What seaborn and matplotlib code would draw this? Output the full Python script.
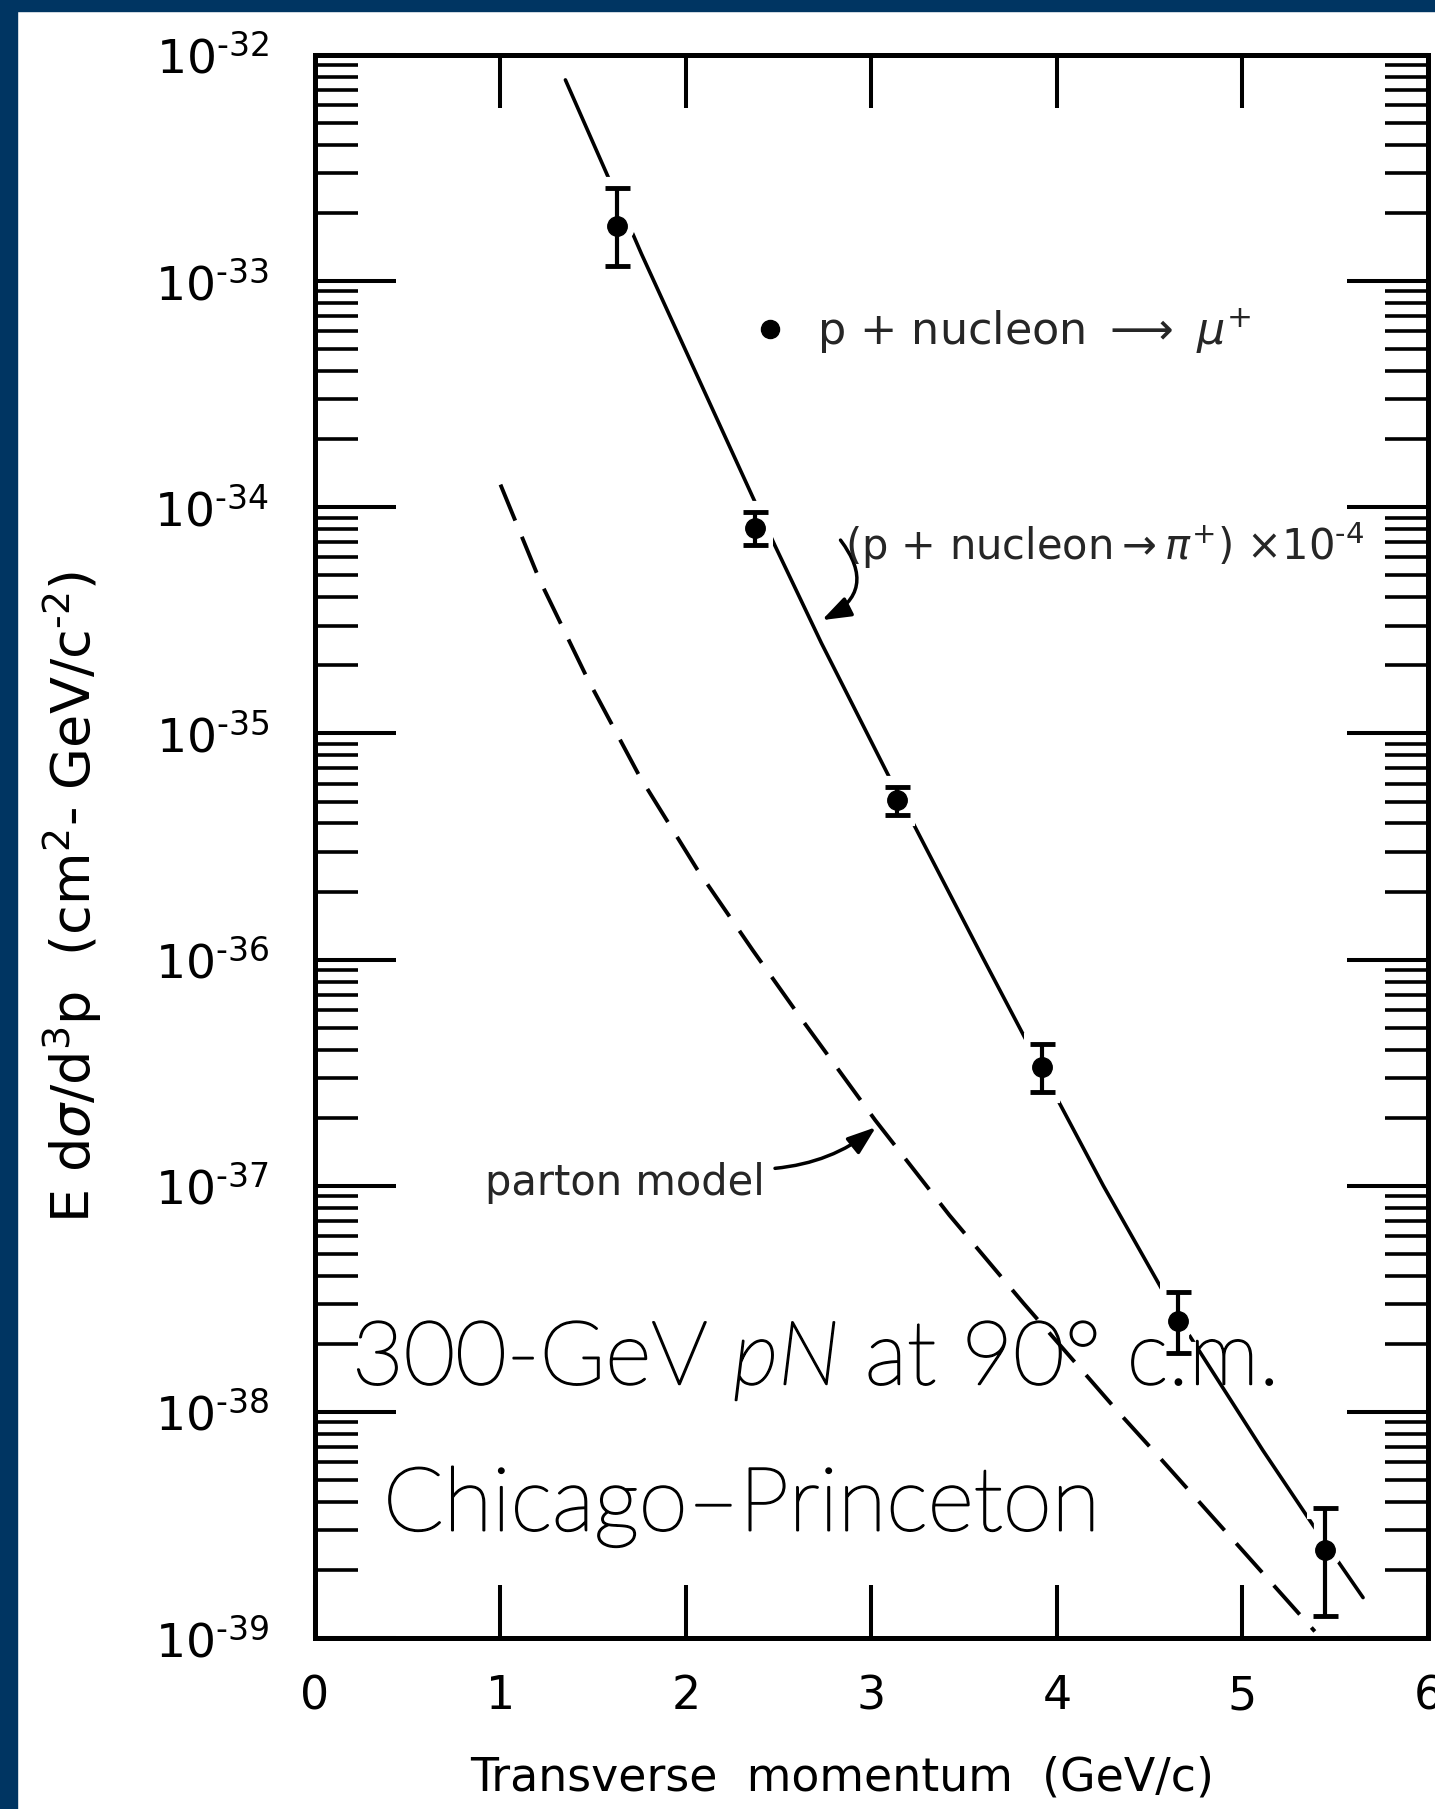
import numpy as np
import matplotlib
matplotlib.use("Agg")
import matplotlib.pyplot as plt
import matplotlib.patheffects as pe
from matplotlib.lines import Line2D
from matplotlib.patches import Rectangle
from matplotlib.ticker import LogLocator, NullLocator, NullFormatter
import seaborn as sns

# measured points, p + nucleon -> mu+ (value, lower and upper end of error bar)
pt_x = [1.63, 2.37, 3.14, 3.92, 4.65, 5.445]
pt_y = [1.76e-33, 8.1e-35, 5.1e-36, 3.34e-37, 2.52e-38, 2.45e-39]
pt_lo = [1.17e-33, 6.8e-35, 4.37e-36, 2.59e-37, 1.82e-38, 1.25e-39]
pt_hi = [2.58e-33, 9.55e-35, 5.78e-36, 4.23e-37, 3.39e-38, 3.75e-39]

# (p + nucleon -> pi+) x 1e-4, solid curve
pi_x = [1.35, 1.57, 1.76, 2.14, 2.48, 2.73, 3.10, 3.60, 3.90, 4.25, 4.65, 5.11, 5.38, 5.65]
pi_y = [7.76e-33, 3.02e-33, 1.32e-33, 2.75e-34, 6.76e-35, 2.51e-35, 6.31e-36,
        1.02e-36, 3.47e-37, 1.00e-37, 2.63e-38, 6.76e-39, 3.16e-39, 1.51e-39]

# parton model, dashed curve
parton_x = [1.00, 1.21, 1.47, 1.75, 2.06, 2.36, 2.62, 3.02, 3.42, 3.82, 4.33, 4.54, 5.39]
parton_y = [1.26e-34, 4.79e-35, 1.74e-35, 6.46e-36, 2.51e-36, 1.10e-36, 5.50e-37,
            1.95e-37, 7.41e-38, 3.02e-38, 1.00e-38, 6.46e-39, 1.07e-39]

x_ticks = [0, 1, 2, 3, 4, 5, 6]
x_ticklabels = ["0", "1", "2", "3", "4", "5", "6"]
y_ticks = [1e-39, 1e-38, 1e-37, 1e-36, 1e-35, 1e-34, 1e-33, 1e-32]
y_ticklabels = [r"$10^{\text{-}39}$", r"$10^{\text{-}38}$", r"$10^{\text{-}37}$", r"$10^{\text{-}36}$",
                r"$10^{\text{-}35}$", r"$10^{\text{-}34}$", r"$10^{\text{-}33}$", r"$10^{\text{-}32}$"]

navy = "#003562"

sns.set_theme(style="ticks")
plt.rcParams["font.family"] = ["DejaVu Sans"]
plt.rcParams["mathtext.fontset"] = "dejavusans"

fig = plt.figure(figsize=(14.35, 18.09), dpi=100)
fig.patch.set_facecolor("white")
ax = fig.add_axes([0.2195, 0.0945, 0.7756, 0.8751])
ax.set_facecolor("white")
ax.set_yscale("log")

# curves ======================================================================
sns.lineplot(x=pi_x, y=pi_y, ax=ax, color="black", lw=2.6, sort=False, zorder=2)
sns.lineplot(x=parton_x, y=parton_y, ax=ax, color="black", lw=2.8, sort=False, zorder=4)
ax.lines[-1].set_dashes([10, 4.5])

# data points; a wide white copy underneath breaks the curve around them
y = np.array(pt_y)
yerr = [y - np.array(pt_lo), np.array(pt_hi) - y]
ax.errorbar(pt_x, pt_y, yerr=yerr, fmt="o", color="white", ms=24,
            elinewidth=16, capsize=13, capthick=16, zorder=2.5)
ax.errorbar(pt_x, pt_y, yerr=yerr, fmt="o", color="black", ms=14,
            elinewidth=3, capsize=9, capthick=3.5, zorder=3)

# axes ========================================================================
ax.set_xlim(0, 6)
ax.set_ylim(1e-39, 1e-32)
ax.set_xticks(x_ticks, labels=x_ticklabels)
ax.set_yticks(y_ticks, labels=y_ticklabels)
ax.yaxis.set_minor_locator(LogLocator(base=10, subs=np.arange(2, 10), numticks=100))
ax.yaxis.set_minor_formatter(NullFormatter())
ax.xaxis.set_minor_locator(NullLocator())

ax.tick_params(axis="x", which="major", direction="in", length=38, width=2.9,
               top=True, bottom=True, labelsize=33, pad=26, color="black", labelcolor="black")
ax.tick_params(axis="y", which="major", direction="in", length=58, width=2.9,
               left=True, right=True, labelsize=34, pad=33, color="black", labelcolor="black")
ax.tick_params(axis="y", which="minor", direction="in", length=31, width=2.6,
               left=True, right=True, color="black")
for s in ax.spines.values():
    s.set_linewidth(3.6)
    s.set_color("black")
    s.set_visible(True)

ax.set_xlabel("Transverse  momentum  (GeV/c)", fontsize=33, color="black")
ax.xaxis.set_label_coords(0.4735, -0.0745)
ax.set_ylabel(r"E d$\sigma$/d$^3$p  (cm$^2$- GeV/c$^{\text{-}2}$)", fontsize=39, color="black")
ax.yaxis.set_label_coords(-0.19, 0.468)

# annotations =================================================================
dot = Line2D([], [], marker="o", ls="none", color="black", ms=13)
leg = ax.legend([dot], [r"p + nucleon $\longrightarrow$ $\mu^{+}$"], loc="center left",
                bbox_to_anchor=(0.397, 0.8257), frameon=False, fontsize=32,
                handlelength=0.6, handletextpad=0.75, borderpad=0, borderaxespad=0)

ax.text(2.857, 5.83e-35, r"(p + nucleon$\rightarrow\pi^{+}$) $\times$10$^{\text{-}4}$",
        fontsize=30, va="baseline", ha="left", zorder=6)
ax.annotate("", xy=(2.733, 10 ** -34.499), xytext=(2.833, 10 ** -34.145),
            arrowprops=dict(arrowstyle="-|>,head_length=0.7,head_width=0.25", lw=2.5,
                            color="black", connectionstyle="arc3,rad=-0.6",
                            mutation_scale=25, shrinkA=0, shrinkB=0))

ax.text(0.916, 9.1e-38, "parton model", fontsize=30, va="baseline", ha="left", zorder=6)
ax.annotate("", xy=(3.024, 10 ** -36.741), xytext=(2.48, 10 ** -36.923),
            arrowprops=dict(arrowstyle="-|>,head_length=0.7,head_width=0.25", lw=2.5,
                            color="black", connectionstyle="arc3,rad=0.15",
                            mutation_scale=25, shrinkA=0, shrinkB=0))

# overlay caption
thick = [pe.withStroke(linewidth=1.4, foreground="black")]
big = dict(fontsize=64, family=["Lato", "DejaVu Sans"], fontweight="light", color="black",
           zorder=7, path_effects=thick)
t1 = ax.text(0.20, 1.325e-38, "300-GeV ", va="baseline", ha="left", **big)
t2 = ax.annotate("pN", xy=(1, 0), xycoords=t1, va="bottom", ha="left", fontstyle="italic", **big)
ax.annotate(" at 90\u00b0 c.m.", xy=(1, 0), xycoords=t2, va="bottom", ha="left", **big)
ax.text(0.367, 2.99e-39, "Chicago\u2013Princeton", va="baseline", ha="left", **big)

# frame of the slide
fig.patches.append(Rectangle((0, 0), 17 / 1435, 1, transform=fig.transFigure,
                             color=navy, zorder=10))
fig.patches.append(Rectangle((0, 1 - 11 / 1809), 1, 11 / 1809, transform=fig.transFigure,
                             color=navy, zorder=10))

fig.savefig("out.png", dpi=100, facecolor="white")
